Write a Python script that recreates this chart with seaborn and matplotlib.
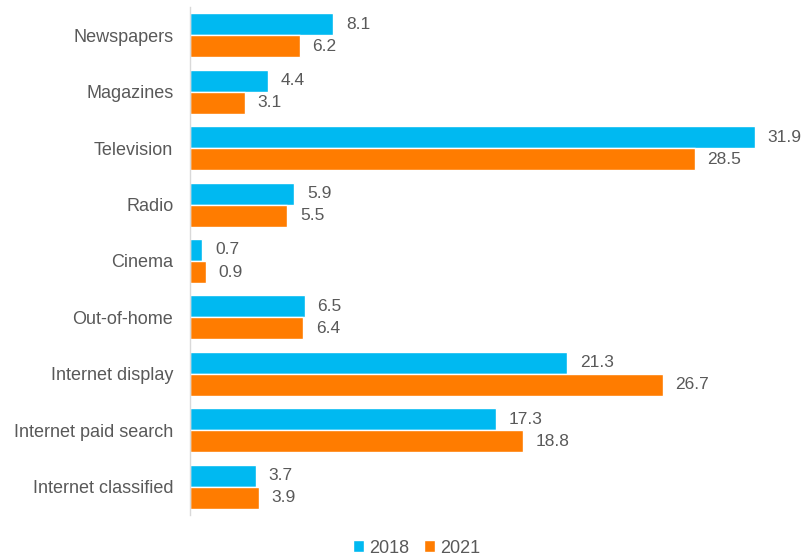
import matplotlib
matplotlib.use("Agg")
import matplotlib.pyplot as plt
import seaborn as sns
import pandas as pd

categories = ["Newspapers", "Magazines", "Television", "Radio", "Cinema",
              "Out-of-home", "Internet display", "Internet paid search",
              "Internet classified"]
values_2018 = [8.1, 4.4, 31.9, 5.9, 0.7, 6.5, 21.3, 17.3, 3.7]
values_2021 = [6.2, 3.1, 28.5, 5.5, 0.9, 6.4, 26.7, 18.8, 3.9]
years = ["2018", "2021"]

df = pd.DataFrame({
    "category": categories * 2,
    "value": values_2018 + values_2021,
    "year": [years[0]] * len(categories) + [years[1]] * len(categories),
})

sns.set_theme(style="white")
plt.rcParams["font.family"] = ["Liberation Sans", "DejaVu Sans"]
grey = "#595959"

fig = plt.figure(figsize=(8.03, 5.57), dpi=100)
ax = fig.add_axes([190 / 803, 42 / 557, 602 / 803, 508 / 557])

palette = {"2018": "#00B9F1", "2021": "#FF7C00"}
sns.barplot(data=df, y="category", x="value", hue="year", orient="h",
            palette=palette, width=0.78, saturation=1, ax=ax, legend=True)

for cont in ax.containers:
    ax.bar_label(cont, fmt="%.1f", padding=9, fontsize=12.5, color=grey)

ax.set_xlim(0, 34)
ax.set_xlabel("")
ax.set_ylabel("")
ax.set_xticks([])
ax.tick_params(axis="y", length=0, labelsize=13, labelcolor=grey, pad=12)
for s in ["top", "right", "bottom"]:
    ax.spines[s].set_visible(False)
ax.spines["left"].set_color("#D9D9D9")
ax.spines["left"].set_linewidth(1)

ax.legend(loc="center", bbox_to_anchor=(0.5 * (803) / 602 - 190 / 602 + 0.025, -0.065),
          ncol=2, frameon=False, fontsize=13, handlelength=0.6,
          handleheight=0.6, handletextpad=0.3, columnspacing=0.8,
          labelcolor=grey)

fig.savefig("out.png", dpi=100)
